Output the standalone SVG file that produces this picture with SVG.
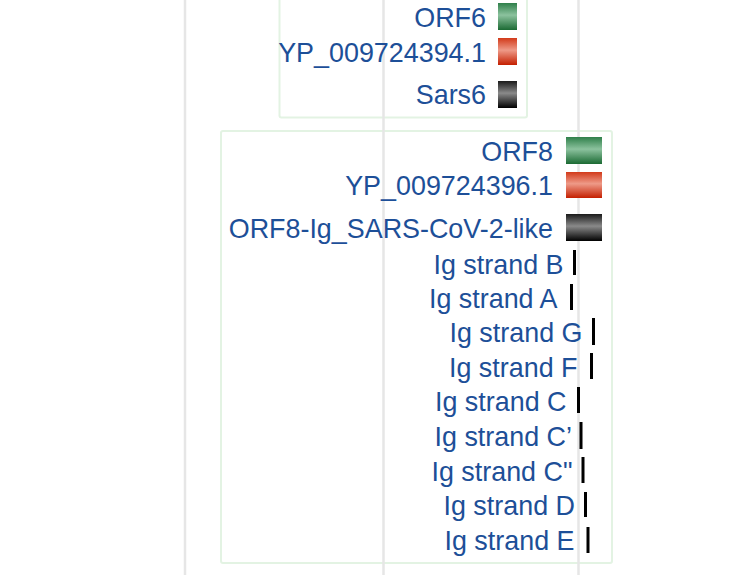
<svg xmlns="http://www.w3.org/2000/svg" width="746" height="575" viewBox="0 0 746 575">
<defs>
<linearGradient id="gGreen" x1="0" y1="0" x2="0" y2="1">
<stop offset="0" stop-color="#2f7f4a"/><stop offset="0.45" stop-color="#8cc29e"/><stop offset="1" stop-color="#1b6a33"/>
</linearGradient>
<linearGradient id="gRed" x1="0" y1="0" x2="0" y2="1">
<stop offset="0" stop-color="#d23a1a"/><stop offset="0.45" stop-color="#ee9a88"/><stop offset="1" stop-color="#c41f00"/>
</linearGradient>
<linearGradient id="gBlack" x1="0" y1="0" x2="0" y2="1">
<stop offset="0" stop-color="#1a1a1a"/><stop offset="0.45" stop-color="#8a8a8a"/><stop offset="1" stop-color="#000"/>
</linearGradient>
</defs>
<style>
.box{fill:none;stroke:#e3f3e3;stroke-width:2}
.grid{stroke:#e6e6e6;stroke-width:2.5}
.lbl{font-family:"Liberation Sans",Arial,sans-serif;font-size:26.9px;fill:#1d4f98;text-anchor:end}
.strand{fill:#000}
</style>
<rect width="746" height="575" fill="#fff"/>
<g id="box1"><rect class="box" x="279.5" y="-20" width="247.5" height="137.5" rx="2"/></g>
<g id="box2"><rect class="box" x="221" y="131" width="391" height="432" rx="2"/></g>
<g id="grid">
<line class="grid" x1="185" y1="0" x2="185" y2="575"/>
<line class="grid" x1="383.5" y1="0" x2="383.5" y2="575"/>
<line class="grid" x1="578.5" y1="0" x2="578.5" y2="575"/>
</g>
<g id="orf6"><text class="lbl" x="486" y="27">ORF6</text><rect x="498" y="3" width="19" height="27" fill="url(#gGreen)"/></g>
<g id="yp394"><text class="lbl" x="486" y="62">YP_009724394.1</text><rect x="498" y="38" width="19" height="27" fill="url(#gRed)"/></g>
<g id="sars6"><text class="lbl" x="486" y="104">Sars6</text><rect x="498" y="81" width="19" height="27" fill="url(#gBlack)"/></g>
<g id="orf8"><text class="lbl" x="553" y="161">ORF8</text><rect x="566" y="137" width="36" height="27" fill="url(#gGreen)"/></g>
<g id="yp396"><text class="lbl" x="553" y="195">YP_009724396.1</text><rect x="566" y="172" width="36" height="26" fill="url(#gRed)"/></g>
<g id="orf8ig"><text class="lbl" x="553" y="238">ORF8-Ig_SARS-CoV-2-like</text><rect x="566" y="214" width="36" height="27" fill="url(#gBlack)"/></g>
<g id="strandB"><text class="lbl" x="563.5" y="274">Ig strand B</text><rect class="strand" x="573" y="250" width="3" height="25"/></g>
<g id="strandA"><text class="lbl" x="557.5" y="307.5">Ig strand A</text><rect class="strand" x="570" y="284" width="3" height="26"/></g>
<g id="strandG"><text class="lbl" x="582.5" y="342">Ig strand G</text><rect class="strand" x="592" y="318" width="3" height="27"/></g>
<g id="strandF"><text class="lbl" x="577.5" y="377">Ig strand F</text><rect class="strand" x="590" y="353" width="3" height="26"/></g>
<g id="strandC"><text class="lbl" x="566.5" y="411">Ig strand C</text><rect class="strand" x="577" y="387" width="3" height="26"/></g>
<g id="strandC1"><text class="lbl" x="572" y="445.5">Ig strand C’</text><rect class="strand" x="579.5" y="422" width="3" height="27"/></g>
<g id="strandC2"><text class="lbl" x="572.5" y="480.5">Ig strand C"</text><rect class="strand" x="581.5" y="457" width="3" height="26"/></g>
<g id="strandD"><text class="lbl" x="575" y="515">Ig strand D</text><rect class="strand" x="584" y="492" width="3" height="25"/></g>
<g id="strandE"><text class="lbl" x="574.5" y="549.5">Ig strand E</text><rect class="strand" x="586.5" y="527" width="3" height="26"/></g>
</svg>
